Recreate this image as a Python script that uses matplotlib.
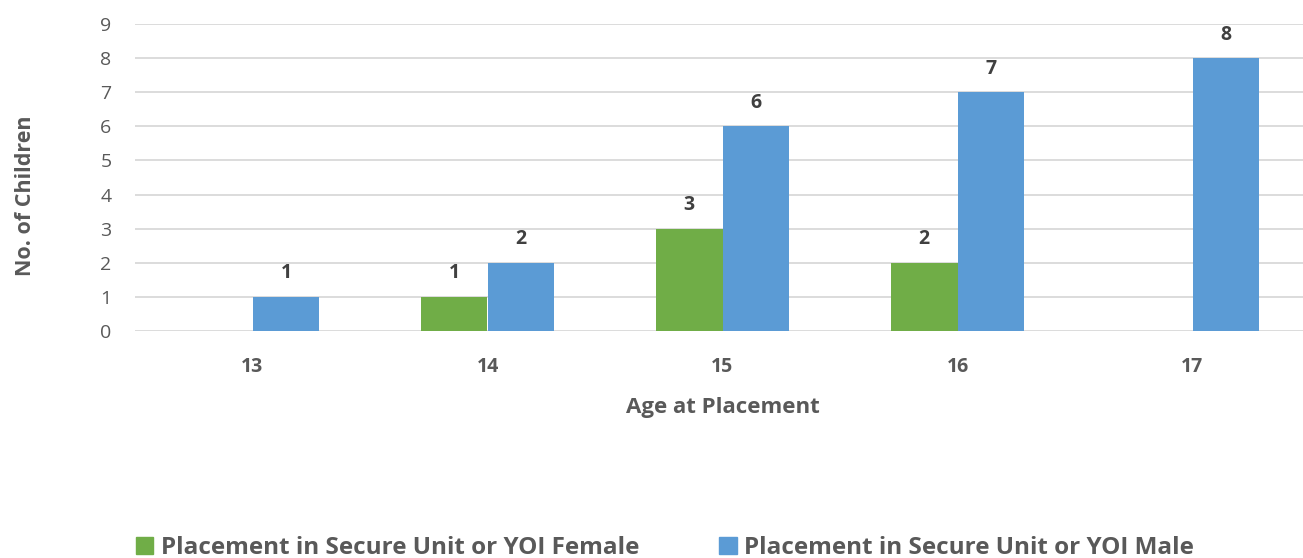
import numpy as np
import matplotlib.pyplot as plt
from matplotlib.patches import Patch

plt.rcParams["font.family"] = ["Open Sans", "DejaVu Sans"]

ages = ["13", "14", "15", "16", "17"]
female = [0, 1, 3, 2, 0]
male = [1, 2, 6, 7, 8]
series_names = [
    "Placement in Secure Unit or YOI Female",
    "Placement in Secure Unit or YOI Male",
]

GREEN = "#70AD47"
BLUE = "#5B9BD5"
GREY = "#595959"

W, H = 1303, 558
fig = plt.figure(figsize=(W / 100, H / 100), dpi=100)
ax = fig.add_axes([135 / W, 227 / H, 1175 / W, 307 / H])

x = np.arange(len(ages))
bw = 0.285
bars_f = ax.bar(x - bw / 2, female, bw, color=GREEN, zorder=3)
bars_m = ax.bar(x + bw / 2, male, bw, color=BLUE, zorder=3)

for bars, vals in [(bars_f, female), (bars_m, male)]:
    for b, v in zip(bars, vals):
        if v == 0:
            continue
        ax.annotate(str(v), (b.get_x() + b.get_width() / 2, v),
                    xytext=(0, 17), textcoords="offset points",
                    ha="center", va="center", fontsize=14,
                    fontweight="bold", color="#404040")

ax.set_xlim(-0.5, len(ages) - 0.5)
ax.set_ylim(0, 9)
ax.set_yticks(range(10))
ax.set_xticks(x)
ax.set_xticklabels(ages, fontweight="bold")
ax.tick_params(axis="x", length=0, pad=19, labelsize=14, labelcolor=GREY)
ax.tick_params(axis="y", length=0, pad=17, labelsize=14, labelcolor=GREY)
ax.grid(axis="y", color="#D9D9D9", linewidth=1.3, zorder=0)
for s in ax.spines.values():
    s.set_visible(False)

ax.set_xlabel("Age at Placement", fontsize=16, fontweight="bold",
              color=GREY, labelpad=14)
ax.set_ylabel("No. of Children", fontsize=15.5, fontweight="bold",
              color=GREY)
ax.yaxis.set_label_coords(-0.084, 0.44)

handles = [Patch(color=GREEN), Patch(color=BLUE)]
fig.legend(handles, series_names, loc="center left",
           bbox_to_anchor=(126 / W, 10 / H), ncol=2, frameon=False,
           handlelength=0.72, handleheight=0.72, handletextpad=0.3,
           columnspacing=3.3, borderaxespad=0,
           prop={"size": 17.5, "weight": "bold"}, labelcolor=GREY)

fig.savefig("out.png", dpi=100)
